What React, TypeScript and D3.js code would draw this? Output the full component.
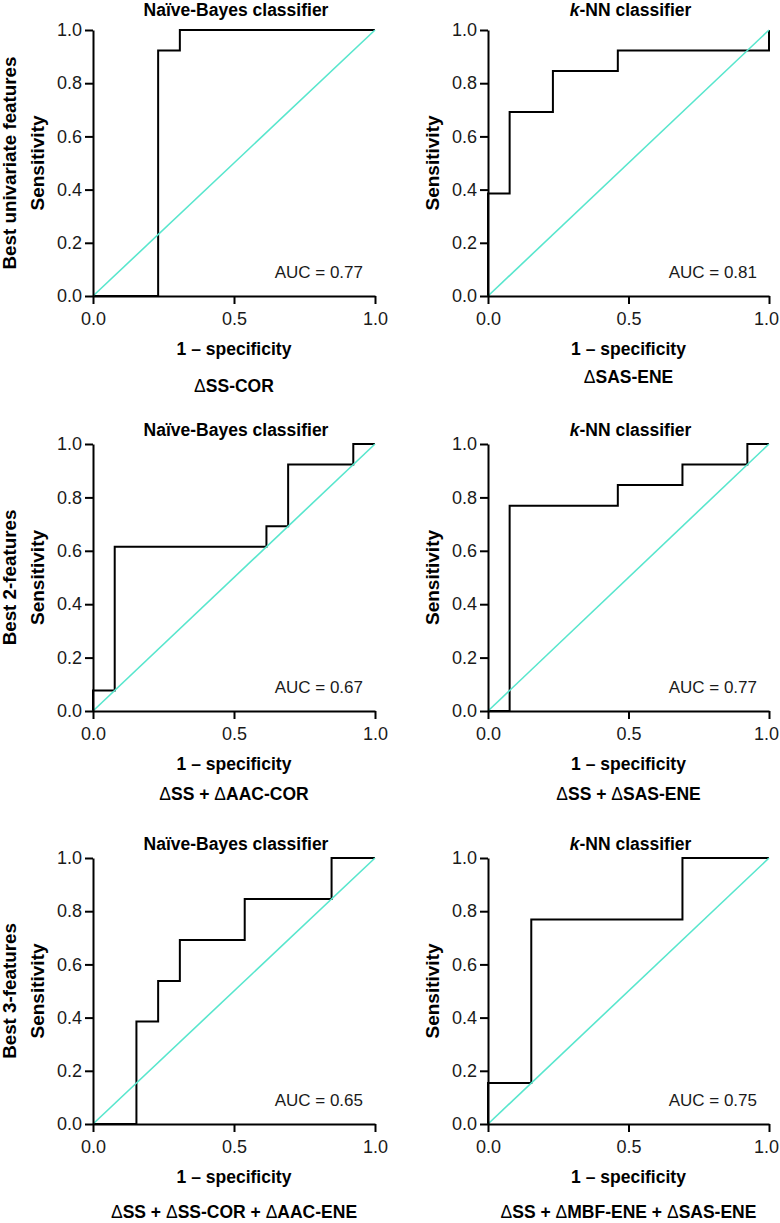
import React, { useRef, useEffect } from 'react';
import * as d3 from 'd3';

const W = 780;
const H = 1223;
const FONT = '"Liberation Sans", Arial, Helvetica, sans-serif';
const DIAG = '#58e6cd';

// text
const rowLabels = ['Best univariate features', 'Best 2-features', 'Best 3-features'];
const classifiers = ['Naïve-Bayes', 'k-NN'];
const featureSets = [
  ['ΔSS-COR', 'ΔSAS-ENE'],
  ['ΔSS + ΔAAC-COR', 'ΔSS + ΔSAS-ENE'],
  ['ΔSS + ΔSS-COR + ΔAAC-ENE', 'ΔSS + ΔMBF-ENE + ΔSAS-ENE'],
];
const aucValues = [
  [0.77, 0.81],
  [0.67, 0.77],
  [0.65, 0.75],
];
const yTicks = [0, 0.2, 0.4, 0.6, 0.8, 1.0];
const xTicks = [0, 0.5, 1.0];

// ROC curves: 1 - specificity (fpr) and sensitivity (tpr)
const nbUniFpr = [0, 0.231, 0.231, 0.308, 0.308, 1];
const nbUniTpr = [0, 0, 0.923, 0.923, 1, 1];
const knnUniFpr = [0, 0, 0.077, 0.077, 0.231, 0.231, 0.462, 0.462, 1, 1];
const knnUniTpr = [0, 0.385, 0.385, 0.692, 0.692, 0.846, 0.846, 0.923, 0.923, 1];
const nb2Fpr = [0, 0, 0.077, 0.077, 0.615, 0.615, 0.692, 0.692, 0.923, 0.923, 1];
const nb2Tpr = [0, 0.077, 0.077, 0.615, 0.615, 0.692, 0.692, 0.923, 0.923, 1, 1];
const knn2Fpr = [0, 0.077, 0.077, 0.462, 0.462, 0.692, 0.692, 0.923, 0.923, 1];
const knn2Tpr = [0, 0, 0.769, 0.769, 0.846, 0.846, 0.923, 0.923, 1, 1];
const nb3Fpr = [0, 0.154, 0.154, 0.231, 0.231, 0.308, 0.308, 0.538, 0.538, 0.846, 0.846, 1];
const nb3Tpr = [0, 0, 0.385, 0.385, 0.538, 0.538, 0.692, 0.692, 0.846, 0.846, 1, 1];
const knn3Fpr = [0, 0, 0.154, 0.154, 0.692, 0.692, 1];
const knn3Tpr = [0, 0.154, 0.154, 0.769, 0.769, 1, 1];

const curves = [
  [[nbUniFpr, nbUniTpr], [knnUniFpr, knnUniTpr]],
  [[nb2Fpr, nb2Tpr], [knn2Fpr, knn2Tpr]],
  [[nb3Fpr, nb3Tpr], [knn3Fpr, knn3Tpr]],
];

// layout
const colX = [[93, 375], [488, 769]];
const rowY = [[30, 296], [444, 711], [858, 1124]];
const titleY = [16, 436, 850];
const subOffset = [[96, 87], [89, 89], [94, 94]];

function DeltaText({ text, ...rest }) {
  // Δ glyph is lighter than the bold letters in the original
  const parts = text.split('Δ');
  return (
    <text {...rest}>
      {parts.map((p, i) => (
        <React.Fragment key={i}>
          {i > 0 && <tspan fontWeight="normal">Δ</tspan>}
          {p && <tspan>{p}</tspan>}
        </React.Fragment>
      ))}
    </text>
  );
}

function Panel({ row, col }) {
  const gx = useRef(null);
  const gy = useRef(null);
  const [x0, x1] = colX[col];
  const [y0, y1] = rowY[row];
  const x = d3.scaleLinear().domain([0, 1]).range([x0, x1]);
  const y = d3.scaleLinear().domain([0, 1]).range([y1, y0]);
  const [fpr, tpr] = curves[row][col];
  const pts = fpr.map((f, i) => [f, tpr[i]]);
  const line = d3.line().x(d => x(d[0])).y(d => y(d[1]));

  useEffect(() => {
    const fmt = d3.format('.1f');
    const style = g => {
      g.selectAll('path').attr('stroke-width', 2).attr('stroke', '#000');
      g.selectAll('line').attr('stroke-width', 2).attr('stroke', '#000');
      g.selectAll('text')
        .attr('font-family', FONT)
        .attr('font-size', 18)
        .attr('fill', '#1a1a1a');
    };
    const ax = d3.select(gx.current);
    ax.selectAll('*').remove();
    ax.call(d3.axisBottom(x).tickValues(xTicks).tickFormat(fmt).tickSize(8).tickSizeOuter(0).tickPadding(8))
      .call(style);
    ax.attr('font-family', null).attr('font-size', null);
    // keep the last label of the right column inside the page
    if (col === 1) {
      ax.selectAll('.tick text').filter(d => d === 1).attr('dx', -3);
    }
    const ay = d3.select(gy.current);
    ay.selectAll('*').remove();
    ay.call(d3.axisLeft(y).tickValues(yTicks).tickFormat(fmt).tickSize(8).tickSizeOuter(0).tickPadding(3))
      .call(style);
    ay.attr('font-family', null).attr('font-size', null);
  }, [row, col]);

  const cx = (x0 + x1) / 2;
  const cy = (y0 + y1) / 2;
  const name = classifiers[col];

  return (
    <g>
      <text x={cx + 2} y={titleY[row]} textAnchor="middle" fontFamily={FONT} fontSize={17.5} fontWeight="bold">
        {name === 'k-NN' ? (
          <>
            <tspan fontStyle="italic">k</tspan>
            <tspan>-NN classifier</tspan>
          </>
        ) : (
          <tspan>{name} classifier</tspan>
        )}
      </text>
      <path d={line(pts)} fill="none" stroke="#000" strokeWidth={2} strokeLinejoin="miter" />
      <path d={line([[0, 0], [1, 1]])} fill="none" stroke={DIAG} strokeWidth={1.6} />
      <g ref={gx} transform={`translate(0,${y1})`} />
      <g ref={gy} transform={`translate(${x0},0)`} />
      <text x={x1 - 12} y={y1 - 18} textAnchor="end" fontFamily={FONT} fontSize={17} fill="#1a1a1a">
        {`AUC = ${aucValues[row][col].toFixed(2)}`}
      </text>
      <text
        transform={`translate(${x0 - 49},${cy}) rotate(-90)`}
        textAnchor="middle"
        fontFamily={FONT}
        fontSize={19}
        fontWeight="bold"
      >
        Sensitivity
      </text>
      {col === 0 && (
        <text
          transform={`translate(16,${cy}) rotate(-90)`}
          textAnchor="middle"
          fontFamily={FONT}
          fontSize={18.8}
          fontWeight="bold"
        >
          {rowLabels[row]}
        </text>
      )}
      <text x={cx} y={y1 + 58.5} textAnchor="middle" fontFamily={FONT} fontSize={17.5} fontWeight="bold">
        1 – specificity
      </text>
      <DeltaText
        text={featureSets[row][col]}
        x={cx}
        y={y1 + subOffset[row][col]}
        textAnchor="middle"
        fontFamily={FONT}
        fontSize={17.5}
        fontWeight="bold"
      />
    </g>
  );
}

export default function App() {
  return (
    <svg
      width={W}
      height={H}
      viewBox={`0 0 ${W} ${H}`}
      style={{ position: 'absolute', left: 0, top: 0, background: '#fff' }}
    >
      {[0, 1, 2].map(r => [0, 1].map(c => <Panel key={`${r}-${c}`} row={r} col={c} />))}
    </svg>
  );
}
